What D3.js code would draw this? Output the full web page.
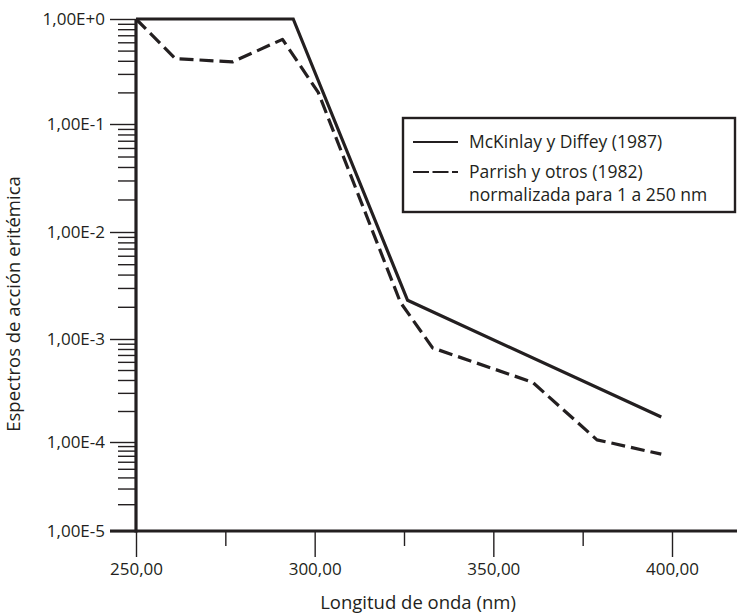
<!DOCTYPE html>
<html>
<head>
<meta charset="utf-8">
<script src="https://cdn.jsdelivr.net/npm/d3@7"></script>
<style>
body { margin: 0; background: #fff; }
svg { display: block; font-family: "Open Sans", sans-serif; }
</style>
</head>
<body>
<svg id="chart" width="737" height="615"></svg>
<script>
// values
var mckinlayNm = [250, 294, 326, 397];
var mckinlayVal = [1, 1, 2.3e-3, 1.75e-4];
var parrishNm = [250, 261, 277, 291, 301, 324, 333, 361, 379, 397];
var parrishVal = [1, 0.42, 0.39, 0.64, 0.2, 2.2e-3, 8.2e-4, 3.8e-4, 1.05e-4, 7.3e-5];
var xTicks = [250, 300, 350, 400];
var xMinorTicks = [275, 325, 375];
var yDecades = [-5, -4, -3, -2, -1, 0];
var yTickLabels = ["1,00E-5", "1,00E-4", "1,00E-3", "1,00E-2", "1,00E-1", "1,00E+0"];
var legendLabels = [["McKinlay y Diffey (1987)"], ["Parrish y otros (1982)", "normalizada para 1 a 250 nm"]];

var ink = "#231f20";
var svg = d3.select("#chart");

// x in nm, y on log10 (the printed decades are not quite evenly spaced)
var x = d3.scaleLinear().domain([250, 400]).range([136, 672]);
var yLog = d3.scaleLinear().domain(yDecades).range([531, 442, 339, 232, 124, 19]);
function y(v) { return yLog(Math.log10(v)); }

var yMinor = [];
yDecades.slice(0, -1).forEach(function(d){
    for (var k = 2; k <= 9; k++) yMinor.push(Math.log10(k * Math.pow(10, d)));
});

function styleAxis(g){
    g.select(".domain").remove();
    g.selectAll(".tick line").attr("stroke", ink).attr("stroke-width", 1.4);
    g.selectAll(".tick text").attr("fill", ink).style("font-size", "17px")
        .style("font-family", "'Open Sans', sans-serif");
}

// y axis ticks
svg.append("g")
    .attr("transform", "translate(136,0)")
    .call(d3.axisLeft(yLog).tickValues(yMinor).tickSize(18).tickFormat(""))
    .call(styleAxis);
svg.append("g")
    .attr("transform", "translate(136,0)")
    .call(d3.axisLeft(yLog).tickValues(yDecades).tickSize(26).tickPadding(5)
        .tickFormat(function(d){ return yTickLabels[yDecades.indexOf(d)]; }))
    .call(styleAxis);

// x axis ticks
svg.append("g")
    .attr("transform", "translate(0,531)")
    .call(d3.axisBottom(x).tickValues(xMinorTicks).tickSize(15).tickFormat(""))
    .call(styleAxis);
svg.append("g")
    .attr("transform", "translate(0,531)")
    .call(d3.axisBottom(x).tickValues(xTicks).tickSize(26).tickPadding(6)
        .tickFormat(function(d){ return d3.format(".2f")(d).replace(".", ","); }))
    .call(styleAxis);

// heavy axis lines
svg.append("line")
    .attr("x1", 136).attr("x2", 136).attr("y1", y(1)).attr("y2", yLog(-5) + 1.5)
    .attr("stroke", ink).attr("stroke-width", 3.2);
svg.append("line")
    .attr("x1", 110).attr("x2", 737).attr("y1", yLog(-5)).attr("y2", yLog(-5))
    .attr("stroke", ink).attr("stroke-width", 3.2);

// data lines
var line = d3.line()
    .x(function(d){ return x(d[0]); })
    .y(function(d){ return y(d[1]); });

svg.append("path")
    .attr("d", line(d3.zip(mckinlayNm, mckinlayVal)))
    .attr("fill", "none")
    .attr("stroke", ink)
    .attr("stroke-width", 3.2)
    .attr("stroke-linejoin", "miter");

svg.append("path")
    .attr("d", line(d3.zip(parrishNm, parrishVal)))
    .attr("fill", "none")
    .attr("stroke", ink)
    .attr("stroke-width", 3.2)
    .attr("stroke-dasharray", "14,6")
    .attr("stroke-linejoin", "round");

// legend
var legend = svg.append("g").attr("transform", "translate(403,118)");
legend.append("rect")
    .attr("width", 332).attr("height", 94)
    .attr("fill", "#fff").attr("stroke", ink).attr("stroke-width", 2.4);

legendLabels.forEach(function(lines, i){
    var ly = 24 + i * 30;
    legend.append("line")
        .attr("x1", 10).attr("x2", 55).attr("y1", ly).attr("y2", ly)
        .attr("stroke", ink).attr("stroke-width", 2.2)
        .attr("stroke-dasharray", i === 1 ? "16,3.5" : null);
    lines.forEach(function(t, j){
        legend.append("text")
            .attr("x", 66).attr("y", ly + 6 + j * 22.5)
            .attr("fill", ink)
            .style("font-size", "17.5px")
            .text(t);
    });
});

// axis titles
svg.append("text")
    .attr("transform", "translate(20,304) rotate(-90)")
    .attr("text-anchor", "middle")
    .attr("fill", ink)
    .style("font-size", "18.5px")
    .text("Espectros de acción eritémica");

svg.append("text")
    .attr("x", 418).attr("y", 609)
    .attr("text-anchor", "middle")
    .attr("fill", ink)
    .style("font-size", "18.5px")
    .text("Longitud de onda (nm)");
</script>
</body>
</html>
